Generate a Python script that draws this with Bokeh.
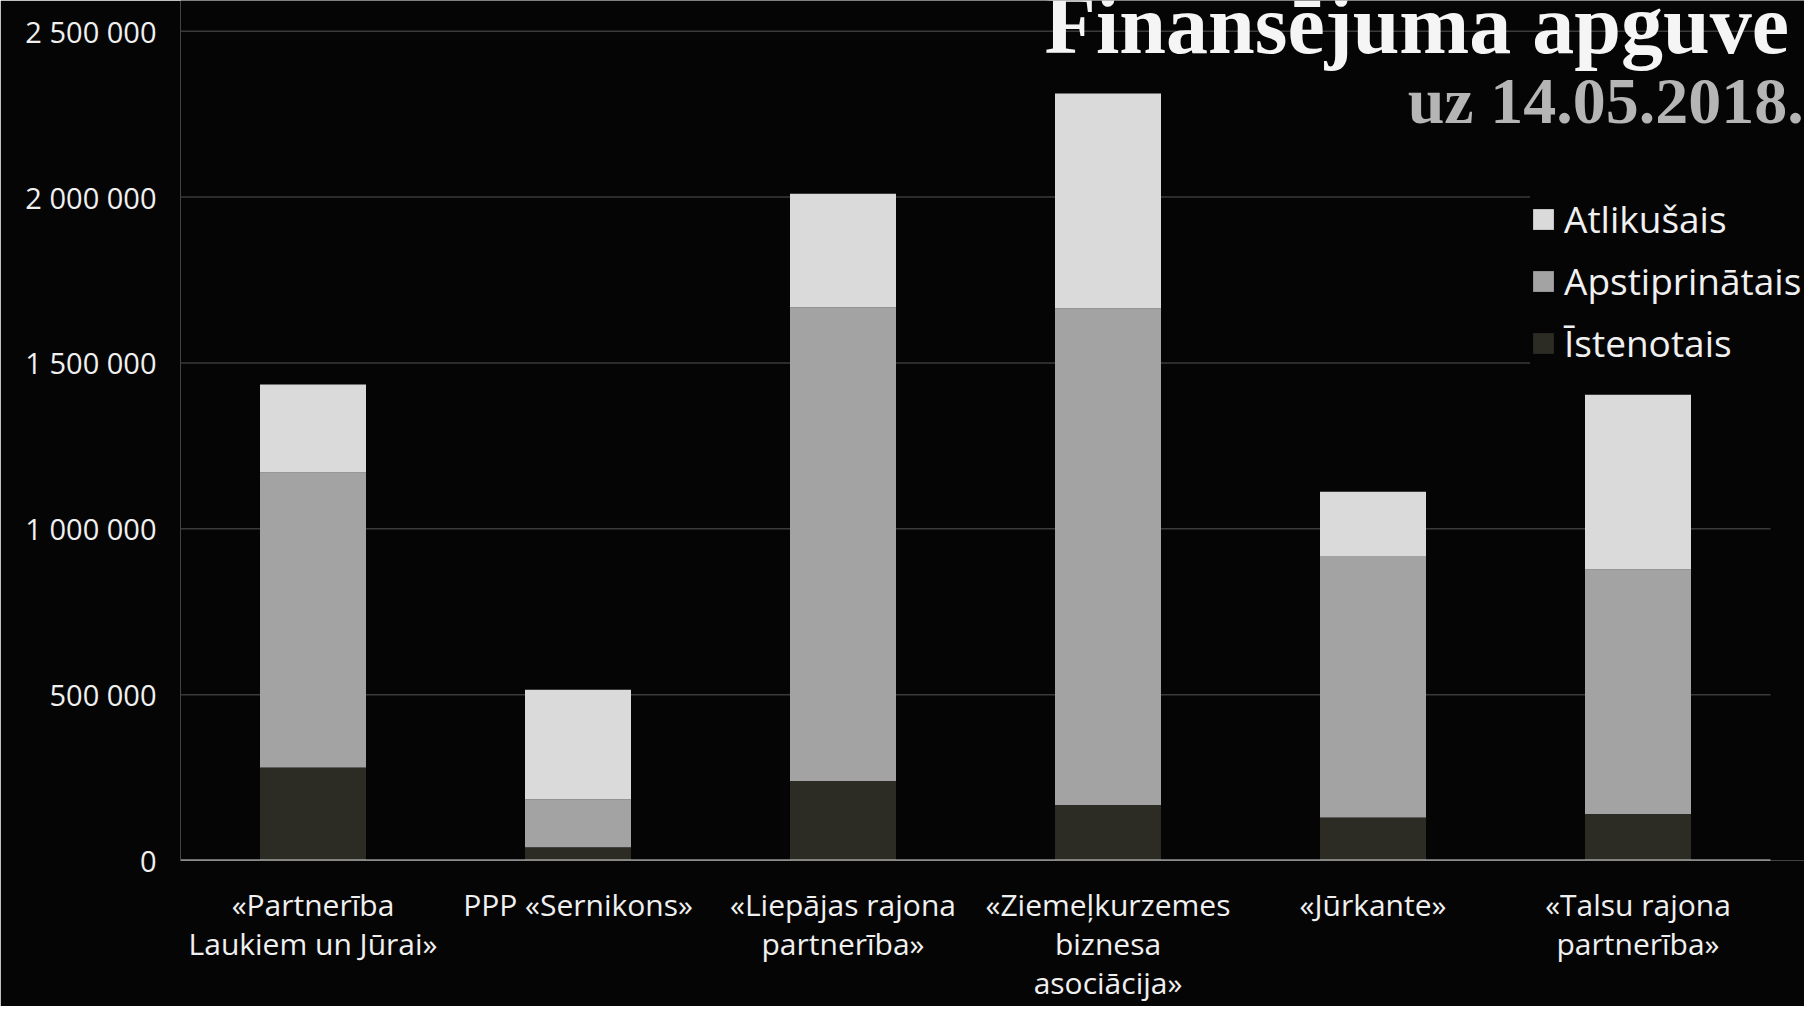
from bokeh.plotting import figure
from bokeh.models import FixedTicker, Label, Legend, LegendItem, ColumnDataSource, Range1d
from bokeh.embed import file_html
from bokeh.resources import INLINE

categories = [
    "«Partnerība\nLaukiem un Jūrai»",
    "PPP «Sernikons»",
    "«Liepājas rajona\npartnerība»",
    "«Ziemeļkurzemes\nbiznesa\nasociācija»",
    "«Jūrkante»",
    "«Talsu rajona\npartnerība»",
]
istenotais = [280000, 40000, 240000, 167000, 130000, 140000]
apstiprinatais = [890000, 145000, 1428000, 1498000, 788000, 737000]
atlikusais = [265000, 330000, 342000, 647000, 194000, 527000]
y_ticks = [0, 500000, 1000000, 1500000, 2000000, 2500000]
y_tick_labels = ["0", "500 000", "1 000 000", "1 500 000", "2 000 000", "2 500 000"]
series_keys = ["ist", "apst", "atl"]
series_names = ["Īstenotais", "Apstiprinātais", "Atlikušais"]
series_colors = ["#2c2c24", "#a3a3a3", "#dadada"]
title_text = "Finansējuma apguve"
subtitle_text = "uz 14.05.2018."

BG = "#050505"
n = len(categories)
xpos = [i + 0.5 for i in range(n)]
source = ColumnDataSource(dict(x=xpos, ist=istenotais, apst=apstiprinatais, atl=atlikusais))

# frame is 1624 px wide, the categories span 1590 px of it
x_end = n * 1624 / 1590
# frame reaches the top of the canvas; the top gridline sits 31 px below it
y_end = y_ticks[-1] * 867 / 836

p = figure(
    x_range=Range1d(0, x_end),
    y_range=Range1d(0, y_end),
    width=1804, height=1006,
    output_backend="svg", toolbar_location=None,
    min_border_left=180, min_border_right=0, min_border_top=0, min_border_bottom=139,
    background_fill_color=BG, border_fill_color=BG,
)
p.outline_line_color = None
p.xgrid.grid_line_color = None
p.ygrid.grid_line_color = None

grid_vals = y_ticks[1:]
p.segment(x0=[0] * len(grid_vals), x1=[n] * len(grid_vals), y0=grid_vals, y1=grid_vals,
          line_color="#3a3a3a", line_width=1.5)

renderers = p.vbar_stack(series_keys, x="x", width=0.4, color=series_colors, source=source, line_color=None)

p.segment(x0=[0], x1=[n], y0=[y_ticks[0]], y1=[y_ticks[0]], line_color="#d8d8d8", line_width=2)

p.yaxis.ticker = FixedTicker(ticks=y_ticks)
p.yaxis.major_label_overrides = {t: l for t, l in zip(y_ticks, y_tick_labels)}
p.yaxis.axis_line_color = None
p.yaxis.major_tick_line_color = None
p.yaxis.minor_tick_line_color = None
p.yaxis.major_label_standoff = 18
p.yaxis.major_label_text_font = "Open Sans"
p.yaxis.major_label_text_font_size = "29px"
p.yaxis.major_label_text_color = "#f0f0f0"

p.xaxis.ticker = FixedTicker(ticks=xpos)
p.xaxis.major_label_overrides = {x: c for x, c in zip(xpos, categories)}
p.xaxis.axis_line_color = None
p.xaxis.major_tick_line_color = None
p.xaxis.minor_tick_line_color = None
p.xaxis.major_label_standoff = 17
p.xaxis.major_label_text_font = "Open Sans"
p.xaxis.major_label_text_font_size = "30px"
p.xaxis.major_label_text_color = "#f0f0f0"
p.xaxis.major_label_text_line_height = 0.96

items = [LegendItem(label=nm, renderers=[r]) for nm, r in zip(series_names, renderers)][::-1]
legend = Legend(
    items=items, location=(1350, 492),
    label_text_font="Open Sans", label_text_font_size="37px", label_text_color="#f0f0f0",
    glyph_width=26, glyph_height=26, label_height=50, spacing=11, label_standoff=8,
    padding=0, margin=0, border_line_color=None,
    background_fill_color=BG, background_fill_alpha=1.0,
)
p.add_layout(legend)

p.add_layout(Label(x=6.07, y=2520000, text=title_text, text_align="right", text_baseline="alphabetic",
                   text_font="Liberation Serif", text_font_style="bold", text_font_size="84px",
                   text_color="#f5f5f5"))
p.add_layout(Label(x=6.125, y=2290000, text=subtitle_text, text_align="right", text_baseline="alphabetic",
                   text_font="Liberation Serif", text_font_style="bold", text_font_size="66px",
                   text_color="#b5b5b5"))

open("out.html", "w").write(file_html(p, INLINE))
